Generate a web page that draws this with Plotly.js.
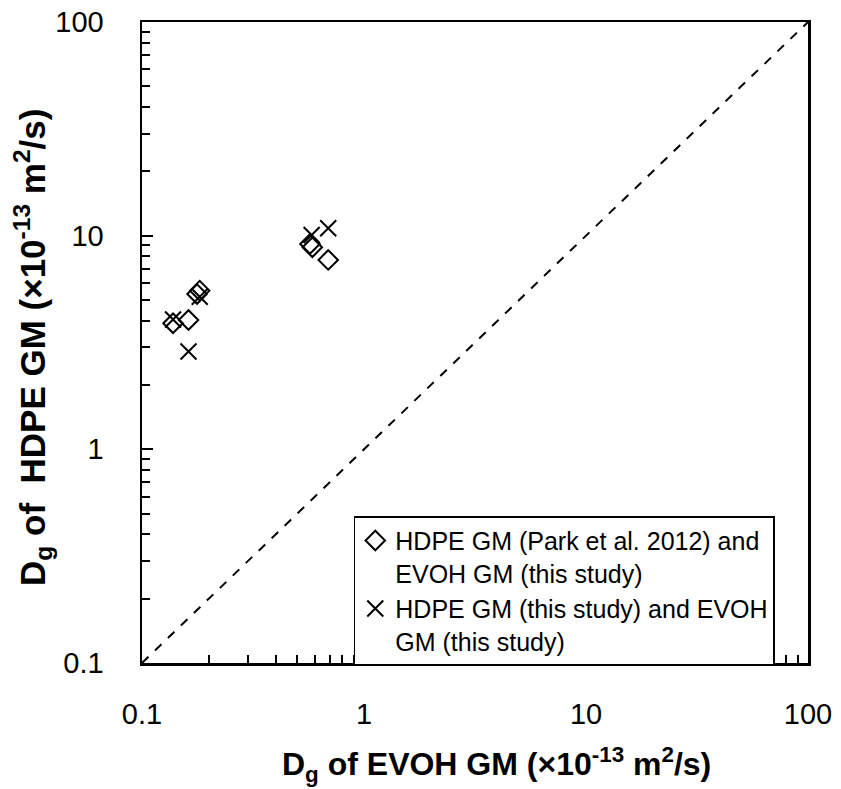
<!DOCTYPE html>
<html>
<head>
<meta charset="utf-8">
<script src="https://cdn.plot.ly/plotly-3.0.1.min.js"></script>
<style>html,body{margin:0;padding:0;background:#fff;}#chart{width:841px;height:789px;}</style>
</head>
<body>
<div id="chart"></div>
<script>
// Series 1: HDPE GM (Park et al. 2012) vs EVOH GM (this study)
const parkEVOH = [0.138, 0.162, 0.182, 0.177, 0.585, 0.571, 0.690];
const parkHDPE = [3.89, 4.03, 5.53, 5.33, 8.82, 9.14, 7.70];
// Series 2: HDPE GM (this study) vs EVOH GM (this study)
const studyEVOH = [0.138, 0.162, 0.182, 0.581, 0.690];
const studyHDPE = [4.05, 2.87, 5.18, 10.08, 10.83];
// 1:1 line
const diagX = [0.1, 100];
const diagY = [0.1, 100];

const seriesNames = [
  'HDPE GM (Park et al. 2012) and<br>EVOH GM (this study)',
  'HDPE GM (this study) and EVOH<br>GM (this study)'
];
const tickVals = [0.1, 1, 10, 100];
const tickText = ['0.1', '1', '10', '100'];
const xTitle = '<b>D<sub>g</sub> of EVOH GM (×10<sup>-13</sup> m<sup>2</sup>/s)</b>';
const yTitle = '<b>D<sub>g</sub> of&nbsp; HDPE GM (×10<sup>-13</sup> m<sup>2</sup>/s)</b>';

const FONT = 'Arial, "Liberation Sans", sans-serif';

const traces = [
  {
    x: diagX, y: diagY, mode: 'lines', showlegend: false, hoverinfo: 'skip',
    line: {color: 'black', width: 2, dash: 'dash'}
  },
  {
    x: parkEVOH, y: parkHDPE, mode: 'markers', name: seriesNames[0],
    marker: {symbol: 'diamond-open', size: 15, color: 'black', line: {color: 'black', width: 2}}
  },
  {
    x: studyEVOH, y: studyHDPE, mode: 'markers', name: seriesNames[1],
    marker: {symbol: 'x-thin-open', size: 16, color: 'black', line: {color: 'black', width: 2}}
  }
];

function axis(standoff) {
  return {
    type: 'log',
    range: [-1, 2],
    tickmode: 'array',
    tickvals: tickVals,
    ticktext: tickText,
    ticks: 'inside',
    ticklen: 11,
    tickwidth: 2,
    tickcolor: 'black',
    ticklabelstandoff: standoff,
    minor: {ticks: 'inside', ticklen: 8, tickwidth: 2, tickcolor: 'black', dtick: 'D1', showgrid: false},
    showgrid: false,
    zeroline: false,
    showline: true,
    linecolor: 'black',
    linewidth: 2.5,
    mirror: true,
    tickfont: {family: FONT, size: 29, color: 'black'},
    automargin: false
  };
}

const layout = {
  width: 841, height: 789,
  margin: {l: 142, r: 33, t: 22, b: 126},
  paper_bgcolor: 'white', plot_bgcolor: 'white',
  showlegend: true,
  xaxis: axis(24),
  yaxis: axis(30),
  annotations: [
    {
      text: xTitle, xref: 'paper', yref: 'paper', x: 0.533, y: -0.159,
      xanchor: 'center', yanchor: 'middle', showarrow: false,
      font: {family: FONT, size: 32, color: 'black'}
    },
    {
      text: yTitle, xref: 'paper', yref: 'paper', x: -0.1637, y: 0.493,
      xanchor: 'center', yanchor: 'middle', showarrow: false, textangle: -90,
      font: {family: FONT, size: 35, color: 'black'}
    }
  ],
  legend: {
    x: 0.318, y: 0.229, xanchor: 'left', yanchor: 'top',
    bgcolor: 'white', bordercolor: 'black', borderwidth: 1.5,
    font: {family: FONT, size: 25, color: 'black'},
    itemwidth: 30, valign: 'top', tracegroupgap: 1
  }
};

Plotly.newPlot('chart', traces, layout, {displayModeBar: false, staticPlot: true});
</script>
</body>
</html>
